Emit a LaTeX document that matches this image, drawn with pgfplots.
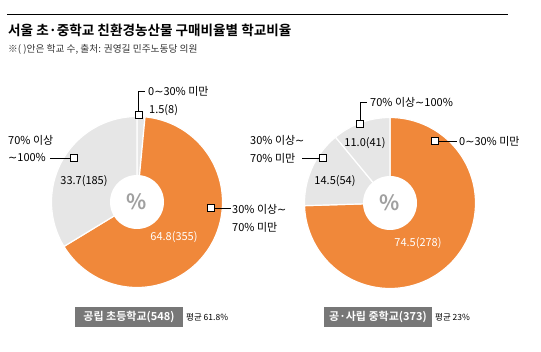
\documentclass[border=0pt]{standalone}
\usepackage{pgfplots}
\pgfplotsset{compat=1.18}
\usepackage{pgfplotstable}
\usepackage{fontspec}
\setmainfont{Noto Sans CJK KR}[BoldFont={Noto Sans CJK KR Bold}]
\newfontfamily\dejavu{DejaVu Sans}
\newcommand\tl{{\dejavu\char"223C}}
\definecolor{orng}{HTML}{F0883A}
\definecolor{lgray}{HTML}{E6E6E6}
\definecolor{boxgray}{HTML}{777777}
\definecolor{pctgray}{HTML}{A0A0A0}

% elementary schools: share (%) and number of schools
\pgfplotstableread{
pct count
1.5 8
64.8 355
33.7 185
}\elemtab
% middle schools
\pgfplotstableread{
pct count
74.5 278
14.5 54
11.0 41
}\midtab

\begin{document}
\begin{tikzpicture}
\pgfplotstablegetelem{0}{pct}\of\elemtab \edef\Ea{\pgfplotsretval}
\pgfplotstablegetelem{1}{pct}\of\elemtab \edef\Eb{\pgfplotsretval}
\pgfplotstablegetelem{2}{pct}\of\elemtab \edef\Ec{\pgfplotsretval}
\pgfplotstablegetelem{0}{pct}\of\midtab \edef\Ma{\pgfplotsretval}
\pgfplotstablegetelem{1}{pct}\of\midtab \edef\Mb{\pgfplotsretval}
\pgfplotstablegetelem{2}{pct}\of\midtab \edef\Mc{\pgfplotsretval}
\pgfmathsetmacro\EAa{90-3.6*\Ea}
\pgfmathsetmacro\EAb{\EAa-3.6*\Eb}
\pgfmathsetmacro\EAc{\EAb-3.6*\Ec}
\pgfmathsetmacro\MAa{90-3.6*\Ma}
\pgfmathsetmacro\MAb{\MAa-3.6*\Mb}
\pgfmathsetmacro\MAc{\MAb-3.6*\Mc}
\begin{axis}[scale only axis, width=541pt, height=352pt,
  xmin=0, xmax=541, ymin=0, ymax=352, y dir=reverse,
  hide axis, clip=false]
\path (axis cs:0,0) rectangle (axis cs:541,352);

% top rule, title
\draw[black, line width=1pt] (axis cs:7,15) -- (axis cs:508,15);
\node[anchor=west, inner sep=0pt, font=\fontsize{13.6}{15}\selectfont\bfseries] at (axis cs:8,30) {서울 초·중학교 친환경농산물 구매비율별 학교비율};
\node[anchor=west, inner sep=0pt, font=\fontsize{9.7}{11}\selectfont, text=black!80] at (axis cs:8,49) {※( )안은 학교 수, 출처: 권영길 민주노동당 의원};

% ---- left donut (elementary) ----
\addplot[fill=lgray, draw=white, line width=1.2pt, domain=\EAa:90, samples=10] ({137+85.5*cos(x)},{202-85.5*sin(x)}) -- (axis cs:137,202) -- cycle;
\addplot[fill=orng, draw=white, line width=1.2pt, domain=\EAb:\EAa, samples=120] ({137+85.5*cos(x)},{202-85.5*sin(x)}) -- (axis cs:137,202) -- cycle;
\addplot[fill=lgray, draw=white, line width=1.2pt, domain=\EAc:\EAb, samples=80] ({137+85.5*cos(x)},{202-85.5*sin(x)}) -- (axis cs:137,202) -- cycle;
\addplot[fill=white, draw=none, domain=0:360, samples=73] ({137+27*cos(x)},{202-27*sin(x)}) -- cycle;

% ---- right donut (middle) ----
\addplot[fill=orng, draw=white, line width=1.2pt, domain=\MAa:90, samples=130] ({390+85.5*cos(x)},{203-85.5*sin(x)}) -- (axis cs:390,203) -- cycle;
\addplot[fill=lgray, draw=white, line width=1.2pt, domain=\MAb:\MAa, samples=30] ({390+85.5*cos(x)},{203-85.5*sin(x)}) -- (axis cs:390,203) -- cycle;
\addplot[fill=lgray, draw=white, line width=1.2pt, domain=\MAc:\MAb, samples=30] ({390+85.5*cos(x)},{203-85.5*sin(x)}) -- (axis cs:390,203) -- cycle;
\addplot[fill=white, draw=none, domain=0:360, samples=73] ({390+27*cos(x)},{203-27*sin(x)}) -- cycle;

% centre %
\node[font=\fontsize{21}{24}\selectfont\bfseries, text=pctgray] at (axis cs:137,202) {\%};
\node[font=\fontsize{21}{24}\selectfont\bfseries, text=pctgray] at (axis cs:390,203) {\%};

% value labels
\begin{scope}[every node/.style={font=\fontsize{11}{13}\selectfont, inner sep=0pt}]
\node[anchor=west] at (axis cs:149,110) {1.5(8)};
\node at (axis cs:84,181) {33.7(185)};
\node[text=white] at (axis cs:174,237) {64.8(355)};
\node at (axis cs:365,143) {11.0(41)};
\node at (axis cs:335,181) {14.5(54)};
\node[text=white] at (axis cs:418,243) {74.5(278)};

% category labels
\node[anchor=west] at (axis cs:148,91) {0\tl 30\% 미만};
\node[anchor=west] at (axis cs:8,140) {70\% 이상};
\node[anchor=west] at (axis cs:8,157) {\tl 100\%};
\node[anchor=west] at (axis cs:232,209) {30\% 이상\tl};
\node[anchor=west] at (axis cs:232,227) {70\% 미만};
\node[anchor=west] at (axis cs:370,102) {70\% 이상\tl 100\%};
\node[anchor=west] at (axis cs:459,141) {0\tl 30\% 미만};
\node[anchor=west] at (axis cs:250,140) {30\% 이상\tl};
\node[anchor=west] at (axis cs:250,158) {70\% 미만};
\end{scope}

% leaders
\begin{scope}[line width=0.7pt]
\draw (axis cs:138.5,112) -- (axis cs:138.5,91) -- (axis cs:145,91);
\draw[fill=white] (axis cs:135,111.5) rectangle (axis cs:142,118.5);
\draw (axis cs:50,158) -- (axis cs:71,158);
\draw[fill=white] (axis cs:70.5,154.5) rectangle (axis cs:77.5,161.5);
\draw (axis cs:214,208) -- (axis cs:231,208);
\draw[fill=white] (axis cs:207,204.5) rectangle (axis cs:214,211.5);
\draw (axis cs:360,121) -- (axis cs:360,102) -- (axis cs:367,102);
\draw[fill=white] (axis cs:356.5,120.5) rectangle (axis cs:363.5,127.5);
\draw (axis cs:438,141) -- (axis cs:457,141);
\draw[fill=white] (axis cs:431.5,137.5) rectangle (axis cs:438.5,144.5);
\draw (axis cs:302,158) -- (axis cs:320,158);
\draw[fill=white] (axis cs:319.5,154.5) rectangle (axis cs:326.5,161.5);
\end{scope}

% bottom captions
\fill[boxgray] (axis cs:75,307) rectangle (axis cs:183,327);
\node[font=\fontsize{11}{13}\selectfont\bfseries, text=white, inner sep=0pt] at (axis cs:129,317) {공립 초등학교(548)};
\node[anchor=west, inner sep=0pt, font=\fontsize{8.5}{10}\selectfont] at (axis cs:186,317) {평균 61.8\%};
\fill[boxgray] (axis cs:324,307) rectangle (axis cs:432,327);
\node[font=\fontsize{11}{13}\selectfont\bfseries, text=white, inner sep=0pt] at (axis cs:378,317) {공·사립 중학교(373)};
\node[anchor=west, inner sep=0pt, font=\fontsize{8.5}{10}\selectfont] at (axis cs:435,317) {평균 23\%};
\end{axis}
\end{tikzpicture}
\end{document}
